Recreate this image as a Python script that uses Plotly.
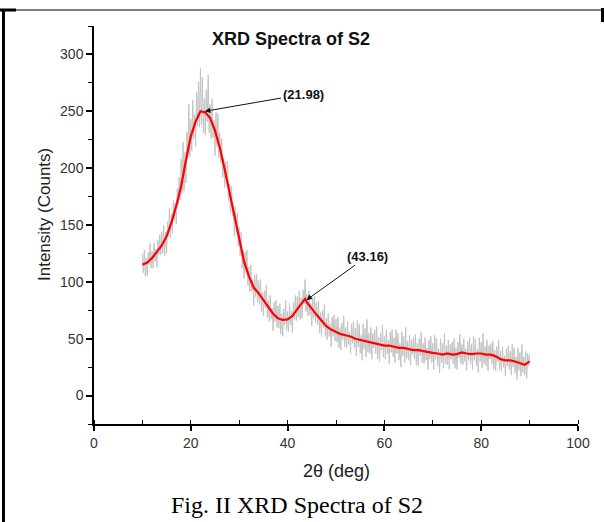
import numpy as np
import plotly.graph_objects as go

# ---- data ----
# smoothed pattern (red)
smooth_x = [10, 11, 12, 13, 14, 15, 16, 17, 18, 19, 20, 21, 22, 23, 24, 25, 26, 27, 28, 29,
            30, 31, 32, 33, 34, 35, 36, 37, 38, 39, 40, 41, 42, 43, 43.6, 44, 45, 46, 47, 48, 49,
            50, 51, 52, 53, 54, 55, 56, 57, 58, 59, 60, 61, 62, 63, 64, 65, 66, 67, 68, 69,
            70, 71, 72, 73, 74, 75, 76, 77, 78, 79, 80, 81, 82, 83, 84, 85, 86, 87, 88, 89, 90]
smooth_y = [115, 117, 121, 126, 132, 140, 152, 167, 184, 207, 228, 241, 250, 249, 244, 233, 218, 199, 178, 158,
            136, 118, 105, 95, 90, 84, 77, 72, 68, 66.5, 67, 70, 76, 82, 85, 82, 76, 71, 66, 61, 58,
            56, 54, 53, 52, 50, 49, 48, 47, 46, 45, 44, 44, 43, 42, 42, 41, 40, 40, 39, 38,
            37.5, 37, 36, 37, 36, 36.5, 38, 37, 36.5, 37, 37, 36, 36, 34.5, 32, 31, 31, 30, 28.5, 27, 30]

# raw scan (grey), 0.2 deg step from 10 to 90 deg
scan_start, scan_step, scan_n = 10.0, 0.2, 401
raw_y = [
    125, 108, 128, 105, 121, 105, 126, 115, 134, 112, 127, 112, 134, 118, 129, 113, 137, 124, 142, 124,
    144, 125, 150, 123, 144, 125, 153, 140, 165, 139, 160, 143, 172, 154, 169, 151, 182, 168, 192, 172,
    208, 177, 223, 180, 214, 187, 232, 209, 256, 210, 243, 215, 260, 226, 247, 219, 267, 237, 276, 236,
    288, 238, 280, 231, 261, 229, 269, 241, 282, 231, 256, 226, 261, 227, 242, 211, 249, 219, 248, 209,
    231, 205, 226, 192, 209, 183, 206, 186, 206, 171, 186, 161, 184, 158, 167, 140, 166, 143, 161, 131,
    148, 123, 144, 112, 128, 103, 126, 108, 128, 97, 113, 91, 115, 92, 102, 79, 106, 87, 107, 82,
    101, 80, 102, 74, 91, 70, 92, 77, 97, 69, 84, 65, 88, 67, 77, 57, 82, 65, 84, 60,
    79, 59, 81, 54, 72, 52, 76, 62, 84, 57, 74, 56, 81, 62, 74, 55, 82, 67, 88, 66,
    87, 69, 92, 67, 86, 68, 93, 80, 102, 74, 89, 70, 92, 71, 81, 61, 86, 68, 87, 64,
    82, 62, 83, 55, 73, 52, 75, 60, 80, 52, 68, 49, 72, 52, 63, 43, 69, 52, 71, 48,
    67, 47, 69, 42, 60, 40, 64, 49, 70, 43, 60, 42, 65, 45, 56, 37, 63, 46, 65, 42,
    59, 35, 66, 43, 63, 37, 53, 31, 63, 41, 59, 34, 67, 38, 55, 37, 60, 32, 55, 42,
    58, 37, 61, 32, 51, 30, 55, 40, 62, 34, 52, 32, 58, 37, 49, 28, 56, 38, 58, 34,
    51, 29, 58, 37, 55, 31, 46, 25, 56, 35, 52, 29, 60, 33, 48, 31, 53, 27, 49, 36,
    51, 32, 54, 27, 46, 26, 50, 35, 56, 29, 46, 28, 51, 31, 42, 23, 49, 32, 52, 29,
    46, 23, 53, 32, 50, 26, 41, 20, 50, 29, 46, 24, 55, 28, 44, 27, 49, 23, 45, 32,
    47, 28, 50, 24, 42, 23, 47, 33, 54, 28, 45, 27, 50, 30, 41, 22, 48, 31, 51, 28,
    45, 23, 52, 31, 50, 26, 41, 20, 51, 30, 47, 24, 55, 28, 43, 26, 49, 22, 44, 32,
    46, 28, 48, 23, 40, 22, 43, 30, 49, 23, 39, 21, 43, 25, 35, 17, 41, 26, 44, 23,
    39, 18, 45, 25, 42, 20, 34, 14, 42, 22, 38, 17, 45, 20, 34, 18, 39, 15, 37, 26,
    36]
raw_x = np.round(scan_start + scan_step * np.arange(scan_n), 2)

peak_labels = ["(21.98)", "(43.16)"]
peak_x = [22.9, 43.9]
peak_y = [250, 84]
label_x = [43.2, 56.5]
label_y = [265, 122.5]

x_ticks = [0, 20, 40, 60, 80, 100]
y_ticks = [0, 50, 100, 150, 200, 250, 300]

# ---- figure ----
W, H = 604, 522
L, R, T, B = 94, 26, 26, 98
pw, ph = W - L - R, H - T - B


def px(xp):
    return (xp - L) / pw


def py(yp):
    return (H - B - yp) / ph


fig = go.Figure()
fig.add_trace(go.Scatter(x=raw_x, y=raw_y, mode="lines",
                         line=dict(color="#c4c4c4", width=1), showlegend=False))
fig.add_trace(go.Scatter(x=smooth_x, y=smooth_y, mode="lines",
                         line=dict(color="#ff0000", width=2.2), showlegend=False))

font = "Liberation Sans, Arial, sans-serif"
anns = []
for t, xh, yh, xl, yl in zip(peak_labels, peak_x, peak_y, label_x, label_y):
    anns.append(dict(x=xh, y=yh, ax=xl, ay=yl, xref="x", yref="y", axref="x", ayref="y",
                     text="<b>%s</b>" % t, showarrow=True, arrowhead=2, arrowsize=1.1,
                     arrowwidth=1, arrowcolor="#111", standoff=0,
                     font=dict(family=font, size=13, color="#111")))


def label(xp, yp, text, size, family=font, color="#222", angle=0):
    return dict(x=px(xp), y=py(yp), xref="paper", yref="paper", showarrow=False,
                xanchor="center", yanchor="middle", text=text, textangle=angle,
                font=dict(family=family, size=size, color=color))


anns.append(label(291, 39, "<b>XRD Spectra of S2</b>", 18, color="#111"))
anns.append(label(44, 215, "Intensity (Counts)", 17, angle=-90))
anns.append(label(336, 471, "2θ (deg)", 18))
anns.append(label(297, 505, "Fig. II XRD Spectra of S2", 24,
                  family="Liberation Serif, Times New Roman, serif", color="#000"))

shapes = [
    dict(type="line", xref="paper", yref="paper", x0=px(14), x1=px(604), y0=py(10), y1=py(10),
         line=dict(color="#555", width=1.5)),
    dict(type="line", xref="paper", yref="paper", x0=px(0), x1=px(16), y0=py(10), y1=py(10),
         line=dict(color="#000", width=3)),
    dict(type="line", xref="paper", yref="paper", x0=px(3.5), x1=px(3.5), y0=py(9), y1=py(522),
         line=dict(color="#000", width=3)),
    dict(type="line", xref="paper", yref="paper", x0=px(602.5), x1=px(602.5), y0=py(8), y1=py(22),
         line=dict(color="#000", width=3)),
]

fig.update_layout(
    width=W, height=H, margin=dict(l=L, r=R, t=T, b=B),
    paper_bgcolor="white", plot_bgcolor="white",
    annotations=anns, shapes=shapes,
    xaxis=dict(range=[0, 100], tickmode="array", tickvals=x_ticks, showgrid=False, zeroline=False,
               showline=True, linecolor="#000", linewidth=1.5, ticks="outside", ticklen=5,
               tickwidth=1.5, tickcolor="#000",
               minor=dict(dtick=10, tick0=0, ticks="inside", ticklen=4, tickwidth=1.2, tickcolor="#000"),
               tickfont=dict(family=font, size=14, color="#333")),
    yaxis=dict(range=[-25, 325], tickmode="array", tickvals=y_ticks, showgrid=False, zeroline=False,
               showline=True, linecolor="#000", linewidth=1.5, ticks="outside", ticklen=6,
               tickwidth=1.5, tickcolor="#000",
               minor=dict(dtick=25, tick0=0, ticks="outside", ticklen=4, tickwidth=1.2, tickcolor="#000"),
               tickfont=dict(family=font, size=14, color="#333")),
)

# the page body has an 8px default margin; remove it so the figure sits at the page origin
fig.write_html("out.html", config={"displayModeBar": False},
               post_script="document.body.style.margin='0';")
